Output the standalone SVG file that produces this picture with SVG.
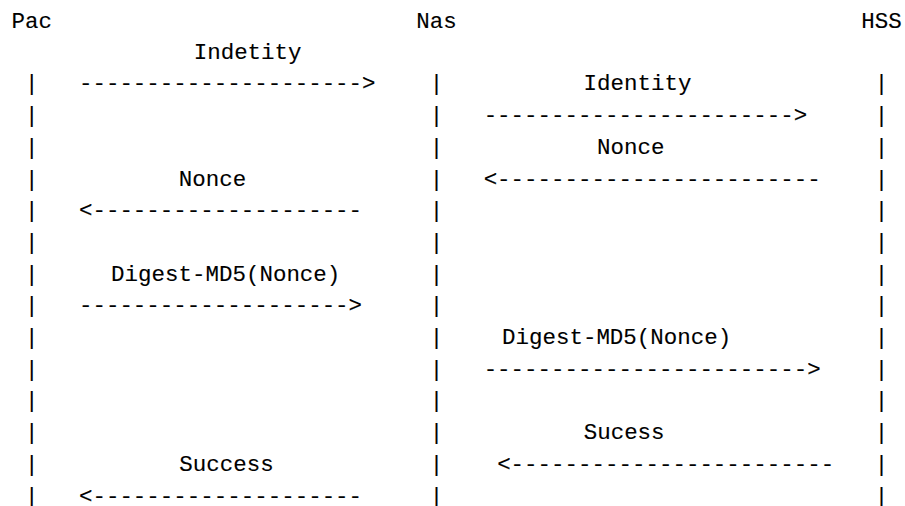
<svg xmlns="http://www.w3.org/2000/svg" width="905" height="506" viewBox="0 0 905 506">
  <style>
    text {
      font-family: "Liberation Mono", "DejaVu Sans Mono", monospace;
      font-size: 22.48px;
      fill: #000;
      stroke: #000;
      stroke-width: 0.12px;
      white-space: pre;
    }
  </style>
  <rect width="905" height="506" fill="#fff"/>

  <!-- Participants: header name plus lifeline made of bars, one per row (pitch 31.7) -->
  <g id="pac">
    <text x="11.5" y="27.5">Pac</text>
    <text>
      <tspan x="24.99" y="90.4">|</tspan>
      <tspan x="24.99" y="122.1">|</tspan>
      <tspan x="24.99" y="153.8">|</tspan>
      <tspan x="24.99" y="185.5">|</tspan>
      <tspan x="24.99" y="217.2">|</tspan>
      <tspan x="24.99" y="248.9">|</tspan>
      <tspan x="24.99" y="280.6">|</tspan>
      <tspan x="24.99" y="312.3">|</tspan>
      <tspan x="24.99" y="344">|</tspan>
      <tspan x="24.99" y="375.7">|</tspan>
      <tspan x="24.99" y="407.4">|</tspan>
      <tspan x="24.99" y="439.1">|</tspan>
      <tspan x="24.99" y="470.8">|</tspan>
      <tspan x="24.99" y="502.5">|</tspan>
    </text>
  </g>

  <g id="nas">
    <text x="416.2" y="27.5">Nas</text>
    <text>
      <tspan x="429.69" y="90.4">|</tspan>
      <tspan x="429.69" y="122.1">|</tspan>
      <tspan x="429.69" y="153.8">|</tspan>
      <tspan x="429.69" y="185.5">|</tspan>
      <tspan x="429.69" y="217.2">|</tspan>
      <tspan x="429.69" y="248.9">|</tspan>
      <tspan x="429.69" y="280.6">|</tspan>
      <tspan x="429.69" y="312.3">|</tspan>
      <tspan x="429.69" y="344">|</tspan>
      <tspan x="429.69" y="375.7">|</tspan>
      <tspan x="429.69" y="407.4">|</tspan>
      <tspan x="429.69" y="439.1">|</tspan>
      <tspan x="429.69" y="470.8">|</tspan>
      <tspan x="429.69" y="502.5">|</tspan>
    </text>
  </g>

  <g id="hss">
    <text x="861.37" y="27.5">HSS</text>
    <text>
      <tspan x="874.86" y="90.4">|</tspan>
      <tspan x="874.86" y="122.1">|</tspan>
      <tspan x="874.86" y="153.8">|</tspan>
      <tspan x="874.86" y="185.5">|</tspan>
      <tspan x="874.86" y="217.2">|</tspan>
      <tspan x="874.86" y="248.9">|</tspan>
      <tspan x="874.86" y="280.6">|</tspan>
      <tspan x="874.86" y="312.3">|</tspan>
      <tspan x="874.86" y="344">|</tspan>
      <tspan x="874.86" y="375.7">|</tspan>
      <tspan x="874.86" y="407.4">|</tspan>
      <tspan x="874.86" y="439.1">|</tspan>
      <tspan x="874.86" y="470.8">|</tspan>
      <tspan x="874.86" y="502.5">|</tspan>
    </text>
  </g>

  <!-- Messages: dashed text arrows with their labels -->
  <g id="connectors">
    <g id="msg-pac-nas-identity">
      <text x="193.7" y="58.7">Indetity</text>
      <text x="78.95" y="90.4">---------------------&gt;</text>
    </g>
    <g id="msg-nas-hss-identity">
      <text x="583.5" y="90.4">Identity</text>
      <text x="483.65" y="122.1">-----------------------&gt;</text>
    </g>
    <g id="msg-hss-nas-nonce">
      <text x="597.1" y="153.8">Nonce</text>
      <text x="483.65" y="185.5">&lt;------------------------</text>
    </g>
    <g id="msg-nas-pac-nonce">
      <text x="178.8" y="185.5">Nonce</text>
      <text x="78.95" y="217.2">&lt;--------------------</text>
    </g>
    <g id="msg-pac-nas-digest">
      <text x="111.1" y="280.6">Digest-MD5(Nonce)</text>
      <text x="78.95" y="312.3">--------------------&gt;</text>
    </g>
    <g id="msg-nas-hss-digest">
      <text x="502" y="344">Digest-MD5(Nonce)</text>
      <text x="483.65" y="375.7">------------------------&gt;</text>
    </g>
    <g id="msg-hss-nas-success">
      <text x="583.7" y="439.1">Sucess</text>
      <text x="497.14" y="470.8">&lt;------------------------</text>
    </g>
    <g id="msg-nas-pac-success">
      <text x="179.3" y="470.8">Success</text>
      <text x="78.95" y="502.5">&lt;--------------------</text>
    </g>
  </g>
</svg>
